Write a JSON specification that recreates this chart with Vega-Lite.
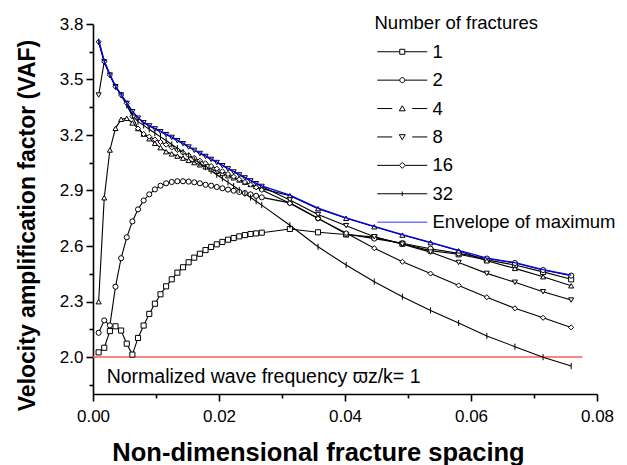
{
  "$schema": "https://vega.github.io/schema/vega-lite/v6.json",
  "width": 504,
  "height": 370,
  "autosize": {"type": "none"},
  "padding": {"left": 93, "top": 24, "right": 30, "bottom": 71},
  "background": "white",
  "config": {"view": {"stroke": null}, "font": "Liberation Sans"},
  "datasets": {
    "curves": [
      {"s":"1","x":0.000893,"y":2.025},{"s":"1","x":0.001786,"y":2.05},{"s":"1","x":0.002679,"y":2.14},{"s":"1","x":0.003572,"y":2.166},{"s":"1","x":0.004465,"y":2.143},{"s":"1","x":0.005358,"y":2.072},{"s":"1","x":0.006251,"y":2.013},{"s":"1","x":0.007144,"y":2.103},{"s":"1","x":0.008037,"y":2.17},{"s":"1","x":0.00893,"y":2.233},{"s":"1","x":0.009823,"y":2.288},{"s":"1","x":0.010716,"y":2.339},{"s":"1","x":0.011609,"y":2.382},{"s":"1","x":0.012502,"y":2.42},{"s":"1","x":0.013395,"y":2.456},{"s":"1","x":0.014288,"y":2.485},{"s":"1","x":0.015181,"y":2.512},{"s":"1","x":0.016074,"y":2.537},{"s":"1","x":0.016967,"y":2.558},{"s":"1","x":0.01786,"y":2.578},{"s":"1","x":0.018753,"y":2.595},{"s":"1","x":0.019646,"y":2.609},{"s":"1","x":0.020539,"y":2.622},{"s":"1","x":0.021432,"y":2.634},{"s":"1","x":0.022325,"y":2.643},{"s":"1","x":0.023218,"y":2.652},{"s":"1","x":0.024111,"y":2.659},{"s":"1","x":0.025004,"y":2.665},{"s":"1","x":0.025897,"y":2.668},{"s":"1","x":0.02679,"y":2.672},{"s":"1","x":0.03125,"y":2.692},{"s":"1","x":0.03572,"y":2.674},{"s":"1","x":0.04018,"y":2.662},{"s":"1","x":0.04465,"y":2.648},{"s":"1","x":0.04911,"y":2.612},{"s":"1","x":0.05358,"y":2.575},{"s":"1","x":0.05804,"y":2.555},{"s":"1","x":0.06251,"y":2.525},{"s":"1","x":0.06697,"y":2.497},{"s":"1","x":0.07144,"y":2.46},{"s":"1","x":0.0759,"y":2.42},
      {"s":"2","x":0.000893,"y":2.131},{"s":"2","x":0.001786,"y":2.198},{"s":"2","x":0.002679,"y":2.171},{"s":"2","x":0.003572,"y":2.38},{"s":"2","x":0.004465,"y":2.534},{"s":"2","x":0.005358,"y":2.647},{"s":"2","x":0.006251,"y":2.733},{"s":"2","x":0.007144,"y":2.798},{"s":"2","x":0.008037,"y":2.846},{"s":"2","x":0.00893,"y":2.879},{"s":"2","x":0.009823,"y":2.906},{"s":"2","x":0.010716,"y":2.926},{"s":"2","x":0.011609,"y":2.939},{"s":"2","x":0.012502,"y":2.946},{"s":"2","x":0.013395,"y":2.95},{"s":"2","x":0.014288,"y":2.95},{"s":"2","x":0.015181,"y":2.948},{"s":"2","x":0.016074,"y":2.944},{"s":"2","x":0.016967,"y":2.939},{"s":"2","x":0.01786,"y":2.931},{"s":"2","x":0.018753,"y":2.926},{"s":"2","x":0.019646,"y":2.919},{"s":"2","x":0.020539,"y":2.912},{"s":"2","x":0.021432,"y":2.905},{"s":"2","x":0.022325,"y":2.899},{"s":"2","x":0.023218,"y":2.892},{"s":"2","x":0.024111,"y":2.886},{"s":"2","x":0.025004,"y":2.879},{"s":"2","x":0.025897,"y":2.871},{"s":"2","x":0.02679,"y":2.863},{"s":"2","x":0.03125,"y":2.833},{"s":"2","x":0.03572,"y":2.75},{"s":"2","x":0.04018,"y":2.665},{"s":"2","x":0.04465,"y":2.64},{"s":"2","x":0.04911,"y":2.615},{"s":"2","x":0.05358,"y":2.585},{"s":"2","x":0.05804,"y":2.56},{"s":"2","x":0.06251,"y":2.532},{"s":"2","x":0.06697,"y":2.508},{"s":"2","x":0.07144,"y":2.47},{"s":"2","x":0.0759,"y":2.44},
      {"s":"4","x":0.000893,"y":2.299},{"s":"4","x":0.001786,"y":2.861},{"s":"4","x":0.002679,"y":3.119},{"s":"4","x":0.003572,"y":3.236},{"s":"4","x":0.004465,"y":3.285},{"s":"4","x":0.005358,"y":3.29},{"s":"4","x":0.006251,"y":3.265},{"s":"4","x":0.007144,"y":3.235},{"s":"4","x":0.008037,"y":3.205},{"s":"4","x":0.00893,"y":3.18},{"s":"4","x":0.009823,"y":3.155},{"s":"4","x":0.010716,"y":3.132},{"s":"4","x":0.011609,"y":3.11},{"s":"4","x":0.012502,"y":3.098},{"s":"4","x":0.013395,"y":3.086},{"s":"4","x":0.014288,"y":3.075},{"s":"4","x":0.015181,"y":3.063},{"s":"4","x":0.016074,"y":3.051},{"s":"4","x":0.016967,"y":3.039},{"s":"4","x":0.01786,"y":3.028},{"s":"4","x":0.018753,"y":3.016},{"s":"4","x":0.019646,"y":3.004},{"s":"4","x":0.020539,"y":2.992},{"s":"4","x":0.021432,"y":2.98},{"s":"4","x":0.022325,"y":2.969},{"s":"4","x":0.023218,"y":2.957},{"s":"4","x":0.024111,"y":2.945},{"s":"4","x":0.025004,"y":2.933},{"s":"4","x":0.025897,"y":2.922},{"s":"4","x":0.02679,"y":2.91},{"s":"4","x":0.03125,"y":2.872},{"s":"4","x":0.03572,"y":2.802},{"s":"4","x":0.04018,"y":2.75},{"s":"4","x":0.04465,"y":2.704},{"s":"4","x":0.04911,"y":2.659},{"s":"4","x":0.05358,"y":2.618},{"s":"4","x":0.05804,"y":2.574},{"s":"4","x":0.06251,"y":2.52},{"s":"4","x":0.06697,"y":2.479},{"s":"4","x":0.07144,"y":2.434},{"s":"4","x":0.0759,"y":2.385},
      {"s":"8","x":0.000893,"y":3.416},{"s":"8","x":0.001786,"y":3.596},{"s":"8","x":0.002679,"y":3.524},{"s":"8","x":0.003572,"y":3.461},{"s":"8","x":0.004465,"y":3.416},{"s":"8","x":0.005358,"y":3.371},{"s":"8","x":0.006251,"y":3.326},{"s":"8","x":0.007144,"y":3.291},{"s":"8","x":0.008037,"y":3.266},{"s":"8","x":0.00893,"y":3.249},{"s":"8","x":0.009823,"y":3.233},{"s":"8","x":0.010716,"y":3.218},{"s":"8","x":0.011609,"y":3.202},{"s":"8","x":0.012502,"y":3.187},{"s":"8","x":0.013395,"y":3.169},{"s":"8","x":0.014288,"y":3.153},{"s":"8","x":0.015181,"y":3.135},{"s":"8","x":0.016074,"y":3.117},{"s":"8","x":0.016967,"y":3.1},{"s":"8","x":0.01786,"y":3.084},{"s":"8","x":0.018753,"y":3.068},{"s":"8","x":0.019646,"y":3.051},{"s":"8","x":0.020539,"y":3.034},{"s":"8","x":0.021432,"y":3.017},{"s":"8","x":0.022325,"y":3.0},{"s":"8","x":0.023218,"y":2.984},{"s":"8","x":0.024111,"y":2.968},{"s":"8","x":0.025004,"y":2.952},{"s":"8","x":0.025897,"y":2.937},{"s":"8","x":0.02679,"y":2.922},{"s":"8","x":0.03125,"y":2.849},{"s":"8","x":0.03572,"y":2.77},{"s":"8","x":0.04018,"y":2.71},{"s":"8","x":0.04465,"y":2.65},{"s":"8","x":0.04911,"y":2.61},{"s":"8","x":0.05358,"y":2.567},{"s":"8","x":0.05804,"y":2.511},{"s":"8","x":0.06251,"y":2.452},{"s":"8","x":0.06697,"y":2.404},{"s":"8","x":0.07144,"y":2.353},{"s":"8","x":0.0759,"y":2.308},
      {"s":"16","x":0.000893,"y":3.704},{"s":"16","x":0.001786,"y":3.596},{"s":"16","x":0.002679,"y":3.524},{"s":"16","x":0.003572,"y":3.461},{"s":"16","x":0.004465,"y":3.416},{"s":"16","x":0.005358,"y":3.371},{"s":"16","x":0.006251,"y":3.3},{"s":"16","x":0.007144,"y":3.235},{"s":"16","x":0.008037,"y":3.205},{"s":"16","x":0.00893,"y":3.191},{"s":"16","x":0.009823,"y":3.176},{"s":"16","x":0.010716,"y":3.162},{"s":"16","x":0.011609,"y":3.148},{"s":"16","x":0.012502,"y":3.133},{"s":"16","x":0.013395,"y":3.119},{"s":"16","x":0.014288,"y":3.104},{"s":"16","x":0.015181,"y":3.09},{"s":"16","x":0.016074,"y":3.076},{"s":"16","x":0.016967,"y":3.061},{"s":"16","x":0.01786,"y":3.047},{"s":"16","x":0.018753,"y":3.032},{"s":"16","x":0.019646,"y":3.018},{"s":"16","x":0.020539,"y":3.004},{"s":"16","x":0.021432,"y":2.989},{"s":"16","x":0.022325,"y":2.975},{"s":"16","x":0.023218,"y":2.96},{"s":"16","x":0.024111,"y":2.946},{"s":"16","x":0.025004,"y":2.932},{"s":"16","x":0.025897,"y":2.917},{"s":"16","x":0.02679,"y":2.903},{"s":"16","x":0.03125,"y":2.831},{"s":"16","x":0.03572,"y":2.748},{"s":"16","x":0.04018,"y":2.67},{"s":"16","x":0.04465,"y":2.588},{"s":"16","x":0.04911,"y":2.515},{"s":"16","x":0.05358,"y":2.451},{"s":"16","x":0.05804,"y":2.387},{"s":"16","x":0.06251,"y":2.323},{"s":"16","x":0.06697,"y":2.263},{"s":"16","x":0.07144,"y":2.212},{"s":"16","x":0.0759,"y":2.16},
      {"s":"32","x":0.000893,"y":3.704},{"s":"32","x":0.001786,"y":3.596},{"s":"32","x":0.002679,"y":3.524},{"s":"32","x":0.003572,"y":3.461},{"s":"32","x":0.004465,"y":3.416},{"s":"32","x":0.005358,"y":3.36},{"s":"32","x":0.006251,"y":3.305},{"s":"32","x":0.007144,"y":3.272},{"s":"32","x":0.008037,"y":3.252},{"s":"32","x":0.00893,"y":3.231},{"s":"32","x":0.009823,"y":3.211},{"s":"32","x":0.010716,"y":3.19},{"s":"32","x":0.011609,"y":3.17},{"s":"32","x":0.012502,"y":3.149},{"s":"32","x":0.013395,"y":3.129},{"s":"32","x":0.014288,"y":3.108},{"s":"32","x":0.015181,"y":3.088},{"s":"32","x":0.016074,"y":3.067},{"s":"32","x":0.016967,"y":3.047},{"s":"32","x":0.01786,"y":3.026},{"s":"32","x":0.018753,"y":3.006},{"s":"32","x":0.019646,"y":2.985},{"s":"32","x":0.020539,"y":2.965},{"s":"32","x":0.021432,"y":2.944},{"s":"32","x":0.022325,"y":2.924},{"s":"32","x":0.023218,"y":2.903},{"s":"32","x":0.024111,"y":2.883},{"s":"32","x":0.025004,"y":2.862},{"s":"32","x":0.025897,"y":2.842},{"s":"32","x":0.02679,"y":2.821},{"s":"32","x":0.03125,"y":2.712},{"s":"32","x":0.03572,"y":2.596},{"s":"32","x":0.04018,"y":2.497},{"s":"32","x":0.04465,"y":2.407},{"s":"32","x":0.04911,"y":2.326},{"s":"32","x":0.05358,"y":2.252},{"s":"32","x":0.05804,"y":2.184},{"s":"32","x":0.06251,"y":2.114},{"s":"32","x":0.06697,"y":2.056},{"s":"32","x":0.07144,"y":1.999},{"s":"32","x":0.0759,"y":1.951}
    ],
    "envelope": [
      {"x":0.000893,"y":3.715},{"x":0.001786,"y":3.6},{"x":0.002679,"y":3.527},{"x":0.003572,"y":3.464},{"x":0.004465,"y":3.419},{"x":0.005358,"y":3.374},{"x":0.006251,"y":3.329},{"x":0.007144,"y":3.294},{"x":0.008037,"y":3.269},{"x":0.00893,"y":3.252},{"x":0.009823,"y":3.236},{"x":0.010716,"y":3.221},{"x":0.011609,"y":3.205},{"x":0.012502,"y":3.19},{"x":0.013395,"y":3.172},{"x":0.014288,"y":3.156},{"x":0.015181,"y":3.138},{"x":0.016074,"y":3.12},{"x":0.016967,"y":3.103},{"x":0.01786,"y":3.087},{"x":0.018753,"y":3.071},{"x":0.019646,"y":3.054},{"x":0.020539,"y":3.037},{"x":0.021432,"y":3.02},{"x":0.022325,"y":3.003},{"x":0.023218,"y":2.987},{"x":0.024111,"y":2.971},{"x":0.025004,"y":2.955},{"x":0.025897,"y":2.94},{"x":0.02679,"y":2.925},{"x":0.03125,"y":2.875},{"x":0.03572,"y":2.805},{"x":0.04018,"y":2.752},{"x":0.04465,"y":2.706},{"x":0.04911,"y":2.661},{"x":0.05358,"y":2.62},{"x":0.05804,"y":2.576},{"x":0.06251,"y":2.535},{"x":0.06697,"y":2.51},{"x":0.07144,"y":2.472},{"x":0.0759,"y":2.442}
    ],
    "redline": [{"x":0,"xe":0.0777,"y":2.0}],
    "note": [{"x":0.00217,"y":1.858,"t":"Normalized wave frequency ϖz/k= 1"}]
  },
  "resolve": {"scale": {"shape": "independent", "stroke": "independent"}},
  "encoding": {
    "x": {
      "field": "x", "type": "quantitative",
      "scale": {"domain": [0, 0.08], "nice": false, "zero": false},
      "axis": {
        "title": "Non-dimensional fracture spacing",
        "values": [0, 0.01, 0.02, 0.03, 0.04, 0.05, 0.06, 0.07, 0.08],
        "labelExpr": "round(datum.value*100) % 2 == 0 ? format(datum.value, '.2f') : ''",
        "tickSize": {"condition": {"test": "round(datum.value*100) % 2 == 0", "value": 7}, "value": 4},
        "grid": false, "domainColor": "black", "domainWidth": 1.6, "tickColor": "black", "tickWidth": 1.6,
        "labelFontSize": 17, "labelColor": "black", "labelPadding": 7, "labelFlush": false,
        "titleFontSize": 25.5, "titleFontWeight": "bold", "titleColor": "black",
        "titleX": 225, "titleY": 58, "titleBaseline": "middle", "titleAlign": "center"
      }
    },
    "y": {
      "field": "y", "type": "quantitative",
      "scale": {"domain": [1.8, 3.8], "nice": false, "zero": false},
      "axis": {
        "title": "Velocity amplification factor (VAF)",
        "values": [1.85, 2.0, 2.15, 2.3, 2.45, 2.6, 2.75, 2.9, 3.05, 3.2, 3.35, 3.5, 3.65, 3.8],
        "labelExpr": "round(datum.value*100) % 30 == 20 ? format(datum.value, '.1f') : ''",
        "tickSize": {"condition": {"test": "round(datum.value*100) % 30 == 20", "value": 7}, "value": 4},
        "grid": false, "domainColor": "black", "domainWidth": 1.6, "tickColor": "black", "tickWidth": 1.6,
        "labelFontSize": 17, "labelColor": "black", "labelPadding": 3, "labelFlush": false,
        "titleFontSize": 23, "titleFontWeight": "bold", "titleColor": "black",
        "titleX": -66, "titleY": 201, "titleBaseline": "middle", "titleAlign": "center"
      }
    }
  },
  "layer": [
    {
      "data": {"name": "redline"},
      "mark": {"type": "rule", "color": "#ff5c5c", "strokeWidth": 1.5},
      "encoding": {"x2": {"field": "xe"}}
    },
    {
      "data": {"name": "curves"},
      "mark": {"type": "line", "color": "black", "strokeWidth": 1.1},
      "encoding": {"detail": {"field": "s"}}
    },
    {
      "data": {"name": "curves"},
      "mark": {"type": "point", "filled": false, "fill": "white", "stroke": "black", "strokeWidth": 1, "opacity": 1, "size": 26},
      "encoding": {
        "shape": {
          "field": "s", "type": "nominal",
          "scale": {
            "domain": ["1", "2", "4", "8", "16", "32", "Envelope of maximum"],
            "range": ["square", "circle", "triangle-up", "triangle-down", "diamond", "M0,-1.2V1.2", "circle"]
          },
          "legend": null
        }
      }
    },
    {
      "data": {"name": "curves"},
      "mark": {"type": "point", "filled": false, "strokeWidth": 1, "opacity": 0, "size": 25},
      "encoding": {
        "shape": {
          "field": "s", "type": "nominal",
          "scale": {
            "domain": ["1", "2", "4", "8", "16", "32", "Envelope of maximum"],
            "range": [
              "M-2.6,0H6.4M8.4,0H17.4M6.4,-1H8.4V1H6.4Z",
              "M-2.6,0H6.4M8.4,0H17.4M6.4,0A1,1 0 1,0 8.4,0A1,1 0 1,0 6.4,0Z",
              "M-2.6,0H3.4M11.4,0H17.4M7.4,-1.1L8.6,0.9H6.2Z",
              "M-2.6,0H3.4M11.4,0H17.4M7.4,1.1L8.6,-0.9H6.2Z",
              "M-2.6,0H6.2M8.6,0H17.4M7.4,-1.2L8.6,0L7.4,1.2L6.2,0Z",
              "M-2.6,0H17.4M7.4,-0.9V0.9",
              "M-2.6,0H17.4"
            ]
          },
          "legend": {
            "title": "Number of fractures",
            "orient": "none", "legendX": 281.5, "legendY": -10,
            "padding": 0, "symbolSize": 25, "symbolOpacity": 1, "symbolStrokeWidth": 1,
            "labelOffset": 39.5, "rowPadding": 9.4, "labelLimit": 400,
            "titleFontSize": 18.5, "titleFontWeight": "normal", "titleColor": "black", "titlePadding": 10,
            "labelFontSize": 18.5, "labelColor": "black"
          }
        },
        "stroke": {
          "field": "s", "type": "nominal",
          "scale": {
            "domain": ["1", "2", "4", "8", "16", "32", "Envelope of maximum"],
            "range": ["black", "black", "black", "black", "black", "black", "#3333ff"]
          },
          "legend": {
            "title": "Number of fractures",
            "orient": "none", "legendX": 281.5, "legendY": -10,
            "padding": 0, "symbolSize": 25, "symbolOpacity": 1, "symbolStrokeWidth": 1,
            "labelOffset": 39.5, "rowPadding": 9.4, "labelLimit": 400,
            "titleFontSize": 18.5, "titleFontWeight": "normal", "titleColor": "black", "titlePadding": 10,
            "labelFontSize": 18.5, "labelColor": "black"
          }
        }
      }
    },
    {
      "data": {"name": "envelope"},
      "mark": {"type": "line", "color": "#0000ff", "strokeWidth": 1.3},
      "encoding": {}
    },
    {
      "data": {"name": "note"},
      "mark": {"type": "text", "align": "left", "baseline": "alphabetic", "fontSize": 19.5, "color": "black"},
      "encoding": {"text": {"field": "t", "type": "nominal"}}
    }
  ]
}
